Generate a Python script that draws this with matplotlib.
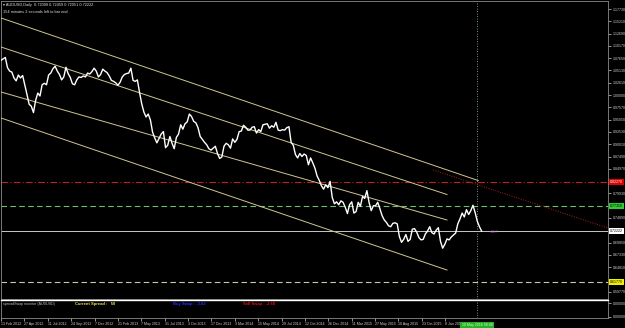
import matplotlib.pyplot as plt
import numpy as np

# weekly closes, AUDUSD daily chart (week of 13 Feb 2012 .. mid May 2016)
closes = [
    # 2012
    1.072, 1.075, 1.078, 1.057, 1.050, 1.048, 1.036, 1.030, 1.042, 1.036, 1.041, 1.022,
    1.002, 0.982, 0.978, 0.965, 0.990, 1.005, 0.999, 1.022, 1.025, 1.022, 1.042, 1.046,
    1.055, 1.060, 1.050, 1.043, 1.032, 1.038, 1.058, 1.045, 1.037, 1.024, 1.022, 1.032,
    1.038, 1.037, 1.040, 1.038, 1.046, 1.044, 1.049, 1.056, 1.050, 1.038, 1.043,
    # 2013
    1.054, 1.050, 1.047, 1.040, 1.031, 1.029, 1.026, 1.021, 1.027, 1.038, 1.043, 1.045,
    1.046, 1.056, 1.031, 1.029, 1.032, 1.006, 0.983, 0.966, 0.956, 0.962, 0.950, 0.925,
    0.913, 0.903, 0.912, 0.921, 0.926, 0.893, 0.898, 0.916, 0.902, 0.891, 0.914, 0.921,
    0.940, 0.931, 0.942, 0.946, 0.962, 0.957, 0.947, 0.944, 0.934, 0.916, 0.910, 0.904,
    0.899, 0.891, 0.888, 0.892,
    # 2014
    0.896, 0.881, 0.871, 0.874, 0.896, 0.902, 0.899, 0.892, 0.911, 0.904, 0.910, 0.926,
    0.927, 0.939, 0.935, 0.929, 0.929, 0.935, 0.936, 0.923, 0.930, 0.926, 0.940, 0.941,
    0.942, 0.933, 0.938, 0.935, 0.945, 0.929, 0.928, 0.930, 0.929, 0.934, 0.936, 0.904,
    0.898, 0.879, 0.872, 0.881, 0.875, 0.880, 0.877, 0.858, 0.872, 0.862, 0.851, 0.835,
    0.826, 0.815, 0.808, 0.817,
    # 2015
    0.811, 0.824, 0.791, 0.778, 0.782, 0.776, 0.784, 0.781, 0.771, 0.758, 0.776, 0.782,
    0.759, 0.762, 0.781, 0.773, 0.793, 0.789, 0.805, 0.781, 0.764, 0.774, 0.774, 0.781,
    0.768, 0.754, 0.745, 0.740, 0.733, 0.731, 0.738, 0.739, 0.737, 0.711, 0.699, 0.705,
    0.715, 0.701, 0.705, 0.726, 0.727, 0.720, 0.709, 0.704, 0.705, 0.716, 0.722, 0.731,
    0.719, 0.716, 0.724, 0.729,
    # 2016
    0.701, 0.687, 0.695, 0.706, 0.704, 0.710, 0.714, 0.718, 0.737, 0.747, 0.759, 0.751,
    0.766, 0.756, 0.764, 0.775, 0.760, 0.742, 0.731, 0.722,
]

date_labels = ['13 Feb 2012', '27 Apr 2012', '11 Jul 2012', '24 Sep 2012', '7 Dec 2012',
               '21 Feb 2013', '7 May 2013', '31 Jul 2013', '3 Oct 2013', '17 Dec 2013',
               '3 Mar 2014', '15 May 2014', '29 Jul 2014', '12 Oct 2014', '26 Dec 2014',
               '11 Mar 2015', '27 May 2015', '10 Aug 2015', '23 Oct 2015', '8 Jan 2016']

price_ticks = [1.17730, 1.15210, 1.12690, 1.10170, 1.07650, 1.05130, 1.02610, 1.00090,
               0.97570, 0.95050, 0.92530, 0.90010, 0.87490, 0.84970, 0.79930,
               0.74890, 0.69850, 0.67330, 0.64810, 0.59770]

# channel trend lines: (bar0, price0, bar1, price1)
channels = [
    (0, 1.1589, 1102, 0.8257),
    (0, 1.0994, 1030, 0.7970),
    (0, 1.0072, 1030, 0.7448),
    (0, 0.9539, 1030, 0.6422),
]
red_trend = (998, 0.8472, 1402, 0.7284)

red_level = 0.82270
green_level = 0.77350
bid = 0.72222
yellow_level = 0.61770

W, H = 625, 328
BAR_PX = 0.433          # pixels per daily bar
PRICE_PX = 0.00205      # price per pixel
FS = 2.6

plt.rcParams['font.family'] = ['Liberation Sans', 'DejaVu Sans']


def rect(x0, y0, x1, y1):
    return [x0 / W, 1 - y1 / H, (x1 - x0) / W, (y1 - y0) / H]


fig = plt.figure(figsize=(W / 100, H / 100), dpi=100, facecolor='black')
ax = fig.add_axes(rect(1, 1, 608, 299), facecolor='black')
ax2 = fig.add_axes(rect(1, 300, 608, 318), facecolor='black')

xmax = 607 / BAR_PX
ax.set_xlim(0, xmax)
ax.set_ylim(bid - 68 * PRICE_PX, bid + 230 * PRICE_PX)
ax2.set_xlim(0, xmax)
ax2.set_ylim(0, 1)

for a in (ax, ax2):
    for s in a.spines.values():
        s.set_color('#8a8a8a')
        s.set_linewidth(0.6)
ax2.spines['top'].set_color('white')
ax2.spines['top'].set_linewidth(1.0)

bars = np.arange(len(closes)) * 5
ax.plot(bars, closes, color='white', lw=1.0, zorder=5)

for b0, p0, b1, p1 in channels:
    ax.plot([b0, b1], [p0, p1], color='#cfc690', lw=0.7, zorder=3)
ax.plot([red_trend[0], red_trend[2]], [red_trend[1], red_trend[3]],
        color='#b02020', lw=0.7, ls=(0, (1, 1.5)), zorder=3)

ax.axhline(red_level, color='#c02020', lw=0.8, ls=(0, (6, 2, 1, 2)))
ax.axhline(green_level, color='#6fbf6f', lw=0.8, ls=(0, (5, 3)))
ax.axhline(bid, color='#c8c8c8', lw=0.7)
ax.axhline(yellow_level, color='#c8c8b0', lw=0.8, ls=(0, (5, 3)))

now_bar = 476 / BAR_PX
ax.axvline(now_bar, color='#9ac89a', lw=0.6, ls=(0, (1, 2)))
ax2.axvline(now_bar, color='#9ac89a', lw=0.6, ls=(0, (1, 2)))

# right price scale
ax.yaxis.tick_right()
ax.set_yticks(price_ticks)
ax.set_yticklabels([f'{p:.5f}' for p in price_ticks])
ax.tick_params(axis='y', colors='#d0d0d0', labelsize=FS, length=2, width=0.5, pad=1.5)
ax.set_xticks([])

for level, bg, fg in [(red_level, '#e00000', 'white'), (green_level, '#33cc33', 'black'),
                      (bid, 'white', 'black'), (yellow_level, '#f0f000', 'black')]:
    ax.annotate(f'{level:.5f}', xy=(1.0, level), xycoords=('axes fraction', 'data'),
                xytext=(1.4, 0), textcoords='offset points', fontsize=FS, color=fg,
                va='center', ha='left', annotation_clip=False, zorder=10,
                bbox=dict(boxstyle='square,pad=0.35', fc=bg, ec='none'))

# sub window scale
ax2.yaxis.tick_right()
ax2.set_yticks([0.82, 0.08])
ax2.set_yticklabels(['0.00000', '0.00000'])
ax2.tick_params(axis='y', colors='#d0d0d0', labelsize=FS, length=2, width=0.5, pad=1.5)

# time scale
ax2.set_xticks(np.arange(len(date_labels)) * 54)
ax2.set_xticklabels(date_labels, ha='left')
ax2.tick_params(axis='x', colors='#d0d0d0', labelsize=FS, length=2, width=0.5, pad=1.2)
ax2.annotate('10 May 2016 00:00', xy=(now_bar, 0), xycoords='data', xytext=(0, -5.0),
             textcoords='offset points', ha='center', va='center', fontsize=FS,
             color='#d8ffd8', annotation_clip=False, zorder=10,
             bbox=dict(boxstyle='square,pad=0.35', fc='#22b222', ec='none'))

# texts
fig.text(3 / W, 1 - 5 / H, '\u25be AUDUSD,Daily  0.72098 0.72459 0.72051 0.72222',
         color='#e0e0e0', fontsize=2.8, va='center')
fig.text(3 / W, 1 - 12 / H, '154 minutes 2 seconds left to bar end',
         color='#e0e0e0', fontsize=2.8, va='center')
ax.text(489 / BAR_PX, bid - 1.5 * PRICE_PX, '<58.7', color='#c040d0',
        fontsize=FS, va='center', ha='left')

ax2.text(2 / BAR_PX, 0.78, 'spreadSwap monitor (AUDUSD)', color='#c0c0c0', fontsize=FS,
         va='center', ha='left')
ax2.text(74 / BAR_PX, 0.78, 'Current Spread :   50', color='#f0e040', fontsize=3.0,
         fontweight='bold', va='center', ha='left')
ax2.text(172 / BAR_PX, 0.78, 'Buy Swap : -3.62', color='#2030ff', fontsize=3.0,
         fontweight='bold', va='center', ha='left')
ax2.text(242 / BAR_PX, 0.78, 'Sell Swap : -2.68', color='#e01010', fontsize=3.0,
         fontweight='bold', va='center', ha='left')

fig.savefig('out.png', dpi=100, facecolor='black')
